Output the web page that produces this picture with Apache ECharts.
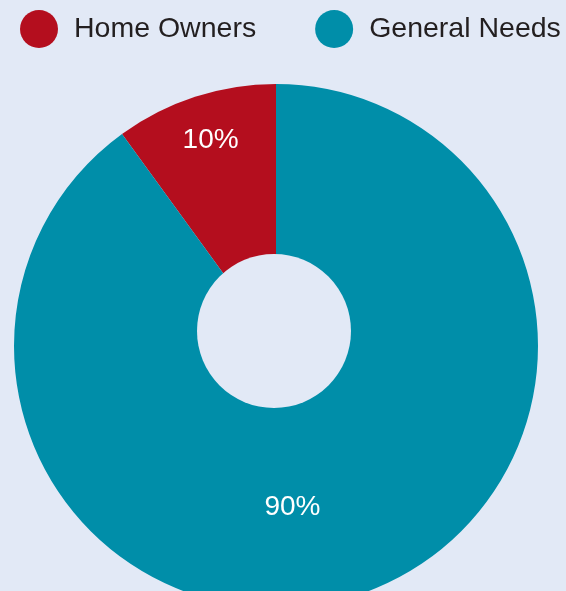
<!DOCTYPE html>
<html>
<head>
<meta charset="utf-8">
<script src="https://cdn.jsdelivr.net/npm/echarts@6/dist/echarts.min.js"></script>
<style>
  html, body { margin: 0; padding: 0; background: #e2e9f6; }
  #chart { width: 566px; height: 591px; }
</style>
</head>
<body>
<div id="chart"></div>
<script>
// Share of units by tenure type
const categories = ['Home Owners', 'General Needs'];
const shares = [10, 90];
const colors = ['#b40e1e', '#008ea9'];

// Label nudges (px) relative to the default 'inside' position, per slice
const labelNudge = [[-24, -78], [-25, 34]];

const BG = '#e2e9f6';

const chart = echarts.init(document.getElementById('chart'), null, { renderer: 'canvas' });

chart.setOption({
  backgroundColor: BG,
  animation: false,
  color: colors,
  legend: {
    data: categories,
    left: 20,
    top: 10,
    padding: 0,
    icon: 'circle',
    itemWidth: 38,
    itemHeight: 38,
    itemGap: 59,
    textStyle: {
      fontFamily: 'Liberation Sans, Arial, sans-serif',
      fontSize: 28.5,
      color: '#231f20',
      padding: [4, 0, 0, 11]
    }
  },
  series: [{
    type: 'pie',
    center: [276, 346],
    radius: [0, 262],
    startAngle: 126,
    clockwise: true,
    silent: true,
    data: categories.map((name, i) => ({ name, value: shares[i] })),
    itemStyle: { borderWidth: 0 },
    label: {
      show: true,
      position: 'inside',
      formatter: '{c}%',
      color: '#ffffff',
      fontFamily: 'Liberation Sans, Arial, sans-serif',
      fontSize: 28,
      fontWeight: 'normal'
    },
    labelLine: { show: false },
    labelLayout: function (params) {
      const n = labelNudge[params.dataIndex];
      return { dx: n[0], dy: n[1] };
    }
  }],
  graphic: [{
    type: 'circle',
    z: 100,
    silent: true,
    shape: { cx: 274, cy: 331, r: 77 },
    style: { fill: BG }
  }]
});
</script>
</body>
</html>
